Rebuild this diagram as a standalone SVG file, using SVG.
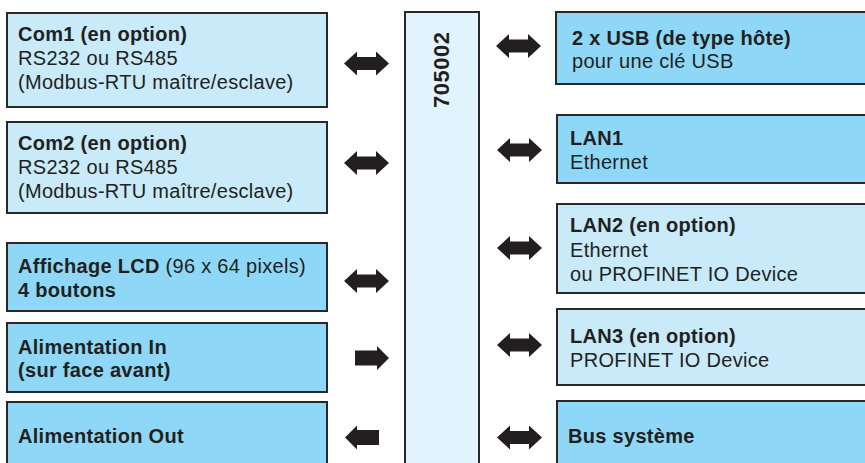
<svg xmlns="http://www.w3.org/2000/svg" xmlns:xlink="http://www.w3.org/1999/xlink" width="865" height="463" viewBox="0 0 865 463">
<style>
.box{stroke:#2a2728;stroke-width:2}
.lt{fill:#c8eaf9}
.dk{fill:#8ed7f6}
.ctr{fill:#e1f3fc}
text{font-family:"Liberation Sans",Arial,sans-serif;font-size:20px;fill:#231f20;letter-spacing:0.3px}
.b{font-weight:bold}
.arr{fill:#231f20}
</style>
<defs>
<path id="dbl" d="M0,0 L13,-12 L13,-6.5 L32,-6.5 L32,-12 L45,0 L32,12 L32,6.5 L13,6.5 L13,12 Z"/>
<path id="rgt" d="M0,-7.5 L22,-7.5 L22,-12 L34,0 L22,12 L22,7.5 L0,7.5 Z"/>
</defs>
<rect width="865" height="463" fill="#ffffff"/>
<g id="center">
<rect class="box ctr" x="405" y="12" width="74" height="470"/>
<text class="b" transform="translate(449,108) rotate(-90)" style="font-size:22px;letter-spacing:0.5px">705002</text>
</g>
<g id="com1">
<rect class="box lt" x="7" y="13" width="320" height="94"/>
<text x="18" y="41" class="b">Com1 (en option)</text>
<text x="18" y="65">RS232 ou RS485</text>
<text x="18" y="89">(Modbus-RTU maître/esclave)</text>
</g>
<g id="com2">
<rect class="box lt" x="7" y="122" width="320" height="91"/>
<text x="18" y="150" class="b">Com2 (en option)</text>
<text x="18" y="174">RS232 ou RS485</text>
<text x="18" y="198">(Modbus-RTU maître/esclave)</text>
</g>
<g id="lcd">
<rect class="box dk" x="7" y="243" width="320" height="68"/>
<text x="18" y="273"><tspan class="b">Affichage LCD</tspan> (96 x 64 pixels)</text>
<text x="18" y="297" class="b">4 boutons</text>
</g>
<g id="alimin">
<rect class="box dk" x="7" y="323" width="320" height="69"/>
<text x="18" y="354" class="b">Alimentation In</text>
<text x="18" y="377" class="b">(sur face avant)</text>
</g>
<g id="alimout">
<rect class="box dk" x="7" y="402" width="320" height="70"/>
<text x="18" y="443" class="b">Alimentation Out</text>
</g>
<g id="usb">
<rect class="box dk" x="556" y="12" width="320" height="72"/>
<text x="572" y="45" class="b">2 x USB (de type hôte)</text>
<text x="572" y="68">pour une clé USB</text>
</g>
<g id="lan1">
<rect class="box dk" x="557" y="115" width="320" height="68"/>
<text x="570" y="145" class="b">LAN1</text>
<text x="570" y="169">Ethernet</text>
</g>
<g id="lan2">
<rect class="box lt" x="557" y="204" width="320" height="89"/>
<text x="570" y="232" class="b">LAN2 (en option)</text>
<text x="570" y="257">Ethernet</text>
<text x="570" y="281">ou PROFINET IO Device</text>
</g>
<g id="lan3">
<rect class="box lt" x="557" y="309" width="320" height="76"/>
<text x="570" y="343" class="b">LAN3 (en option)</text>
<text x="570" y="367">PROFINET IO Device</text>
</g>
<g id="bus">
<rect class="box dk" x="557" y="401" width="320" height="72"/>
<text x="568" y="443" class="b">Bus système</text>
</g>
<g id="connectors" class="arr">
<use xlink:href="#dbl" transform="translate(344,63.5)"/>
<use xlink:href="#dbl" transform="translate(344,163)"/>
<use xlink:href="#dbl" transform="translate(344,281)"/>
<use xlink:href="#rgt" transform="translate(355,358)"/>
<use xlink:href="#rgt" transform="translate(379,437.5) scale(-1,1)"/>
<use xlink:href="#dbl" transform="translate(496,46)"/>
<use xlink:href="#dbl" transform="translate(497,150)"/>
<use xlink:href="#dbl" transform="translate(497,248)"/>
<use xlink:href="#dbl" transform="translate(497,345)"/>
<use xlink:href="#dbl" transform="translate(497,437.5)"/>
</g>
</svg>
